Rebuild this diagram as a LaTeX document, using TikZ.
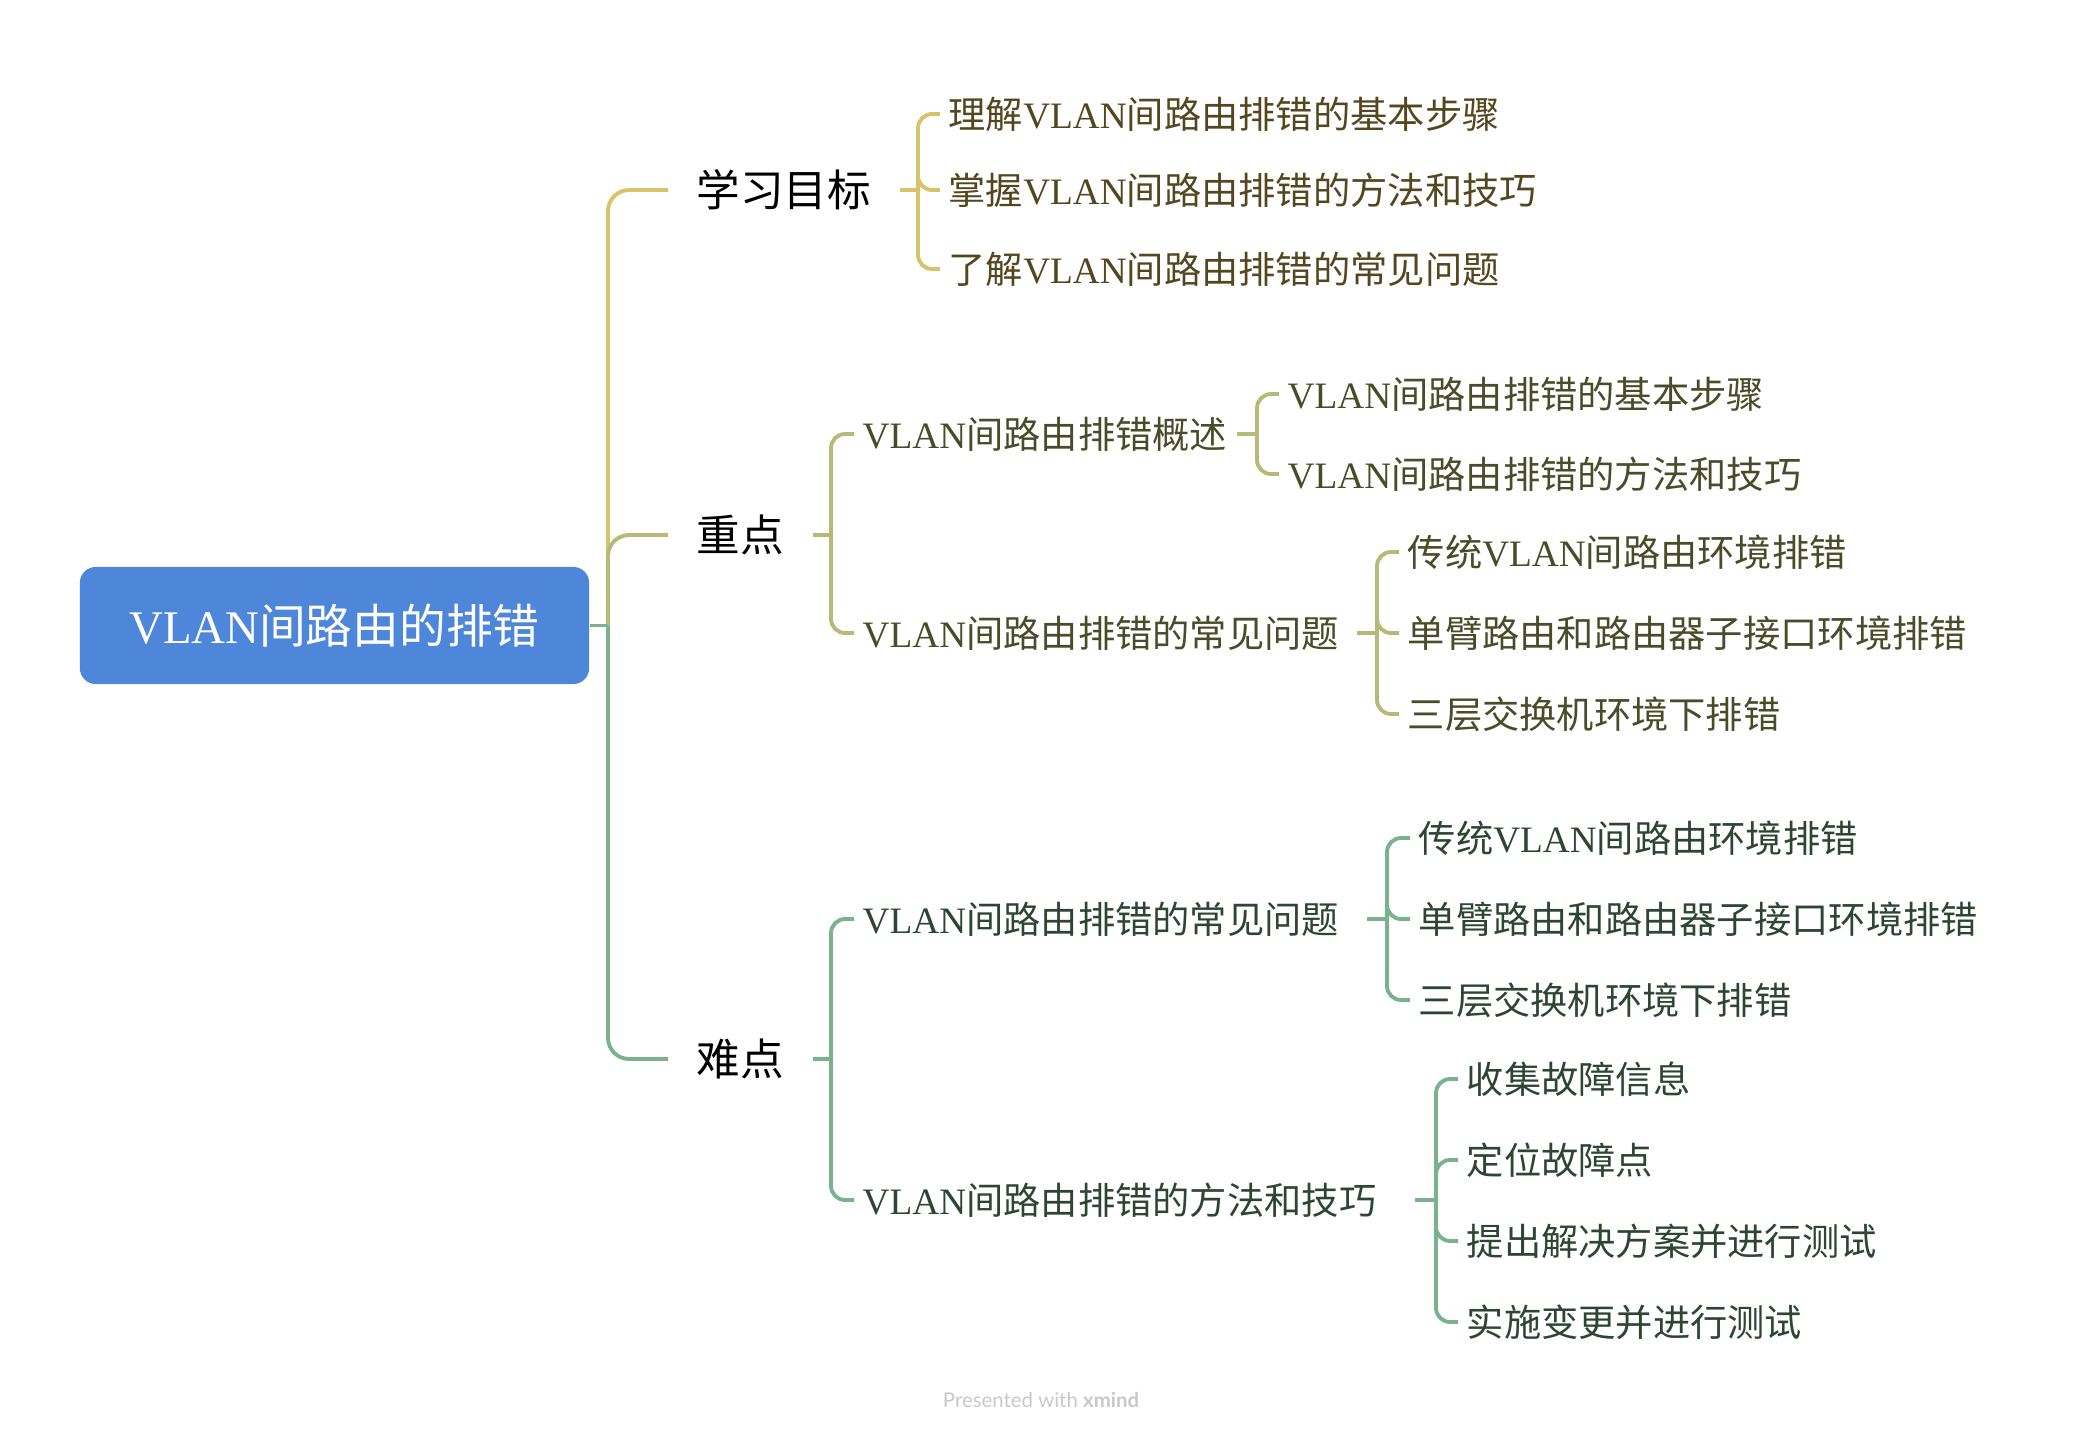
\documentclass[tikz,border=0pt]{standalone}
\usepackage{fontspec}
\setmainfont{Liberation Serif}
\newfontfamily\cjk{Noto Sans CJK SC}
\newfontfamily\footfont{Lato}
\newcommand{\vlan}{{\rmfamily VLAN}}
\definecolor{rootblue}{RGB}{78,134,218}
\definecolor{goalline}{RGB}{216,194,106}
\definecolor{keyline}{RGB}{181,187,118}
\definecolor{hardline}{RGB}{122,178,140}
\definecolor{goaltext}{RGB}{84,70,30}
\definecolor{keytext}{RGB}{72,76,40}
\definecolor{hardtext}{RGB}{45,70,52}
\definecolor{footgray}{RGB}{200,200,200}
\begin{document}
\begin{tikzpicture}[x=0.01cm, y=-0.01cm,
    rootbox/.style={fill=rootblue, rounded corners=4.5pt, minimum width=5.09cm, minimum height=1.17cm,
        text=white, font=\cjk\fontsize{13.3}{15}\selectfont},
    topic/.style={anchor=west, inner xsep=0.28cm, inner ysep=0pt, font=\cjk\fontsize{12.4}{14}\selectfont},
    leaf/.style={anchor=west, inner xsep=0.08cm, inner ysep=0pt, font=\cjk\fontsize{10.6}{12}\selectfont},
    goalline/.style={draw=goalline, line width=1.1pt, rounded corners=4pt},
    keyline/.style={draw=keyline, line width=1.1pt, rounded corners=4pt},
    hardline/.style={draw=hardline, line width=1.1pt, rounded corners=4pt}]
    \useasboundingbox (0,0) rectangle (2085,1434);

    % Root and main topics
    \node[rootbox] (root) at (334.5,625.5) {\vlan{}间路由的排错};
    \node[topic] (goal) at (668,190) {学习目标};
    \node[topic] (key) at (668,535) {重点};
    \node[topic] (hard) at (668,1059) {难点};
    \coordinate (trunk) at (608,625.5);

    % Learning goals
    \node[leaf, text=goaltext] (g1) at (940,114) {理解\vlan{}间路由排错的基本步骤};
    \node[leaf, text=goaltext] (g2) at (940,190) {掌握\vlan{}间路由排错的方法和技巧};
    \node[leaf, text=goaltext] (g3) at (940,269) {了解\vlan{}间路由排错的常见问题};

    % Key points
    \node[leaf, text=keytext] (k1) at (854,434) {\vlan{}间路由排错概述};
    \node[leaf, text=keytext] (k2) at (854,633) {\vlan{}间路由排错的常见问题};
    \node[leaf, text=keytext] (k11) at (1279,394) {\vlan{}间路由排错的基本步骤};
    \node[leaf, text=keytext] (k12) at (1279,474) {\vlan{}间路由排错的方法和技巧};
    \node[leaf, text=keytext] (k21) at (1399,552) {传统\vlan{}间路由环境排错};
    \node[leaf, text=keytext] (k22) at (1399,633) {单臂路由和路由器子接口环境排错};
    \node[leaf, text=keytext] (k23) at (1399,714) {三层交换机环境下排错};

    % Difficult points
    \node[leaf, text=hardtext] (h1) at (854,919) {\vlan{}间路由排错的常见问题};
    \node[leaf, text=hardtext] (h2) at (854,1200) {\vlan{}间路由排错的方法和技巧};
    \node[leaf, text=hardtext] (h11) at (1410,838) {传统\vlan{}间路由环境排错};
    \node[leaf, text=hardtext] (h12) at (1410,919) {单臂路由和路由器子接口环境排错};
    \node[leaf, text=hardtext] (h13) at (1410,1000) {三层交换机环境下排错};
    \node[leaf, text=hardtext] (h21) at (1458,1079) {收集故障信息};
    \node[leaf, text=hardtext] (h22) at (1458,1160) {定位故障点};
    \node[leaf, text=hardtext] (h23) at (1458,1241) {提出解决方案并进行测试};
    \node[leaf, text=hardtext] (h24) at (1458,1322) {实施变更并进行测试};

    % Junctions
    \coordinate (goal-j) at (918,190);
    \coordinate (key-j) at (831,535);
    \coordinate (k1-s) at (1237,434);
    \coordinate (k1-j) at (1257,434);
    \coordinate (k2-s) at (1357,633);
    \coordinate (k2-j) at (1377,633);
    \coordinate (hard-j) at (831,1059);
    \coordinate (h1-s) at (1367,919);
    \coordinate (h1-j) at (1387,919);
    \coordinate (h2-s) at (1415,1200);
    \coordinate (h2-j) at (1436,1200);

    % Branch lines
    \draw[goalline, rounded corners=6pt] (trunk) |- (goal.west);
    \draw[keyline, rounded corners=6pt] (trunk) |- (key.west);
    \draw[hardline, rounded corners=6pt] (trunk) |- (hard.west);
    \draw[hardline] (root.east) -- (trunk);

    \draw[goalline] (goal.east) -- (goal-j);
    \foreach \c in {g1,g2,g3} \draw[goalline] (goal-j) |- (\c.west);

    \draw[keyline] (key.east) -- (key-j);
    \foreach \c in {k1,k2} \draw[keyline] (key-j) |- (\c.west);
    \draw[keyline] (k1-s) -- (k1-j);
    \foreach \c in {k11,k12} \draw[keyline] (k1-j) |- (\c.west);
    \draw[keyline] (k2-s) -- (k2-j);
    \foreach \c in {k21,k22,k23} \draw[keyline] (k2-j) |- (\c.west);

    \draw[hardline] (hard.east) -- (hard-j);
    \foreach \c in {h1,h2} \draw[hardline] (hard-j) |- (\c.west);
    \draw[hardline] (h1-s) -- (h1-j);
    \foreach \c in {h11,h12,h13} \draw[hardline] (h1-j) |- (\c.west);
    \draw[hardline] (h2-s) -- (h2-j);
    \foreach \c in {h21,h22,h23,h24} \draw[hardline] (h2-j) |- (\c.west);

    % Footer
    \node[font=\footfont\fontsize{5.8}{7}\selectfont, text=footgray] (credit) at (1041,1400) {Presented with \textbf{xmind}};
\end{tikzpicture}
\end{document}
